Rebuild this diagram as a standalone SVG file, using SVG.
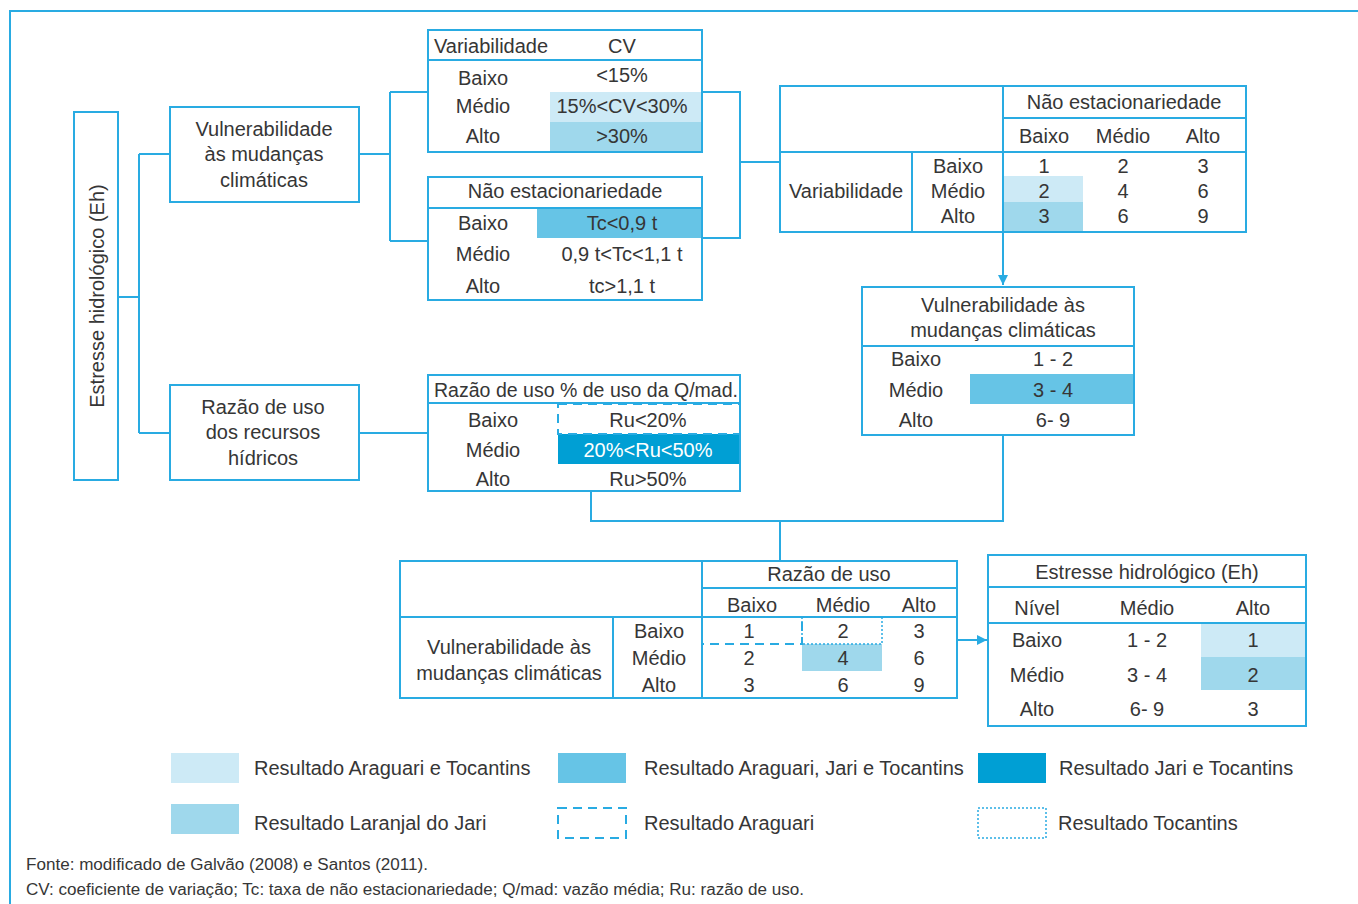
<svg xmlns="http://www.w3.org/2000/svg" width="1358" height="904" viewBox="0 0 1358 904">
<defs>
<style>
.b{fill:none;stroke:#29abe2;stroke-width:2}
.l{fill:none;stroke:#29abe2;stroke-width:2}
text{font-family:"Liberation Sans",Arial,sans-serif;font-size:20px;fill:#363636;text-anchor:middle;dominant-baseline:central}
.s{font-size:16px;text-anchor:start}
.g{text-anchor:start}
.c1{fill:#cdeaf6}.c2{fill:#9fd8ec}.c3{fill:#66c4e6}.c4{fill:#009fd4}
.da{fill:none;stroke:#29abe2;stroke-width:2;stroke-dasharray:9 6}
.do{fill:none;stroke:#29abe2;stroke-width:1.5;stroke-dasharray:2 2}
</style>
<marker id="ar" viewBox="0 0 10 10" refX="10" refY="5" markerWidth="5" markerHeight="5" orient="auto"><path d="M0,0L10,5L0,10z" fill="#29abe2"/></marker>
</defs>
<rect width="1358" height="904" fill="#fff"/>
<path class="l" d="M10,904V11H1358"/>

<g id="connectors">
<path class="l" d="M118,297H139M139,154V433M139,154H170M139,433H170"/>
<path class="l" d="M359,154H390M390,92V241M390,92H428M390,241H428"/>
<path class="l" d="M702,92H740V238H702M740,162H780"/>
<path class="l" d="M1003,232V285" marker-end="url(#ar)"/>
<path class="l" d="M359,433H428"/>
<path class="l" d="M591,491V521H1003V435M780,521V561"/>
<path class="l" d="M957,640H987" marker-end="url(#ar)"/>
</g>

<g id="eh-root">
<rect class="b" x="74" y="112" width="44" height="368"/>
<text transform="translate(97,296) rotate(-90)">Estresse hidrológico (Eh)</text>
</g>

<g id="vul-box">
<rect class="b" x="170" y="107" width="189" height="95"/>
<text x="264" y="129">Vulnerabilidade</text>
<text x="264" y="154">às mudanças</text>
<text x="264" y="180">climáticas</text>
</g>

<g id="razao-box">
<rect class="b" x="170" y="385" width="189" height="95"/>
<text x="263" y="407">Razão de uso</text>
<text x="263" y="432">dos recursos</text>
<text x="263" y="458">hídricos</text>
</g>

<g id="tab-cv">
<rect class="c1" x="550" y="92" width="152" height="30"/>
<rect class="c2" x="550" y="122" width="152" height="30"/>
<rect class="b" x="428" y="30" width="274" height="122"/>
<path class="l" d="M428,60H702"/>
<text x="491" y="46">Variabilidade</text>
<text x="622" y="46">CV</text>
<text x="483" y="78">Baixo</text><text x="622" y="75">&lt;15%</text>
<text x="483" y="106">Médio</text><text x="622" y="106">15%&lt;CV&lt;30%</text>
<text x="483" y="136">Alto</text><text x="622" y="136">&gt;30%</text>
</g>

<g id="tab-ne">
<rect class="c3" x="537" y="208" width="165" height="30"/>
<rect class="b" x="428" y="177" width="274" height="123"/>
<path class="l" d="M428,208H702"/>
<text x="565" y="191">Não estacionariedade</text>
<text x="483" y="223">Baixo</text><text x="622" y="223">Tc&lt;0,9 t</text>
<text x="483" y="254">Médio</text><text x="622" y="254">0,9 t&lt;Tc&lt;1,1 t</text>
<text x="483" y="286">Alto</text><text x="622" y="286">tc&gt;1,1 t</text>
</g>

<g id="matrix-vn">
<rect class="c1" x="1003" y="176" width="80" height="26"/>
<rect class="c2" x="1003" y="202" width="80" height="30"/>
<rect class="b" x="780" y="86" width="466" height="146"/>
<path class="l" d="M1003,86V232M1003,118H1246M780,152H1246M912,152V232"/>
<text x="1124" y="102">Não estacionariedade</text>
<text x="1044" y="136">Baixo</text><text x="1123" y="136">Médio</text><text x="1203" y="136">Alto</text>
<text x="846" y="191">Variabilidade</text>
<text x="958" y="166">Baixo</text><text x="958" y="191">Médio</text><text x="958" y="216">Alto</text>
<text x="1044" y="166">1</text><text x="1123" y="166">2</text><text x="1203" y="166">3</text>
<text x="1044" y="191">2</text><text x="1123" y="191">4</text><text x="1203" y="191">6</text>
<text x="1044" y="216">3</text><text x="1123" y="216">6</text><text x="1203" y="216">9</text>
</g>

<g id="tab-vul">
<rect class="c3" x="970" y="374" width="164" height="30"/>
<rect class="b" x="862" y="287" width="272" height="148"/>
<path class="l" d="M862,346H1134"/>
<text x="1003" y="305">Vulnerabilidade às</text>
<text x="1003" y="330">mudanças climáticas</text>
<text x="916" y="359">Baixo</text><text x="1053" y="359">1 - 2</text>
<text x="916" y="390">Médio</text><text x="1053" y="390">3 - 4</text>
<text x="916" y="420">Alto</text><text x="1053" y="420">6- 9</text>
</g>

<g id="tab-ru">
<rect class="c4" x="558" y="434" width="182" height="30"/>
<rect class="b" x="428" y="375" width="312" height="116"/>
<path class="l" d="M428,403H740"/>
<rect class="da" x="558" y="404" width="182" height="30"/>
<text x="586" y="390" textLength="304" lengthAdjust="spacingAndGlyphs">Razão de uso % de uso da Q/mad.</text>
<text x="493" y="420">Baixo</text><text x="648" y="420">Ru&lt;20%</text>
<text x="493" y="450">Médio</text><text x="648" y="450" style="fill:#fff">20%&lt;Ru&lt;50%</text>
<text x="493" y="479">Alto</text><text x="648" y="479">Ru&gt;50%</text>
</g>

<g id="matrix-vr">
<rect class="c2" x="802" y="644" width="80" height="27"/>
<rect class="b" x="400" y="561" width="557" height="137"/>
<path class="l" d="M702,561V698M702,588H957M400,617H957M613,617V698"/>
<path class="da" d="M702,617H802V644H702"/>
<rect class="do" x="802" y="617" width="80" height="27"/>
<text x="829" y="574">Razão de uso</text>
<text x="752" y="605">Baixo</text><text x="843" y="605">Médio</text><text x="919" y="605">Alto</text>
<text x="509" y="647">Vulnerabilidade às</text>
<text x="509" y="673">mudanças climáticas</text>
<text x="659" y="631">Baixo</text><text x="659" y="658">Médio</text><text x="659" y="685">Alto</text>
<text x="749" y="631">1</text><text x="843" y="631">2</text><text x="919" y="631">3</text>
<text x="749" y="658">2</text><text x="843" y="658">4</text><text x="919" y="658">6</text>
<text x="749" y="685">3</text><text x="843" y="685">6</text><text x="919" y="685">9</text>
</g>

<g id="tab-eh">
<rect class="c1" x="1201" y="623" width="105" height="34"/>
<rect class="c2" x="1201" y="657" width="105" height="33"/>
<rect class="b" x="988" y="555" width="318" height="171"/>
<path class="l" d="M988,587H1306M988,623H1306"/>
<text x="1147" y="572">Estresse hidrológico (Eh)</text>
<text x="1037" y="608">Nível</text><text x="1147" y="608">Médio</text><text x="1253" y="608">Alto</text>
<text x="1037" y="640">Baixo</text><text x="1147" y="640">1 - 2</text><text x="1253" y="640">1</text>
<text x="1037" y="675">Médio</text><text x="1147" y="675">3 - 4</text><text x="1253" y="675">2</text>
<text x="1037" y="709">Alto</text><text x="1147" y="709">6- 9</text><text x="1253" y="709">3</text>
</g>

<g id="legend">
<rect class="c1" x="171" y="753" width="68" height="30"/>
<text class="g" x="254" y="768">Resultado Araguari e Tocantins</text>
<rect class="c3" x="558" y="753" width="68" height="30"/>
<text class="g" x="644" y="768">Resultado Araguari, Jari e Tocantins</text>
<rect class="c4" x="978" y="753" width="68" height="30"/>
<text class="g" x="1059" y="768">Resultado Jari e Tocantins</text>
<rect class="c2" x="171" y="804" width="68" height="30"/>
<text class="g" x="254" y="823">Resultado Laranjal do Jari</text>
<rect class="da" x="558" y="808" width="68" height="30"/>
<text class="g" x="644" y="823">Resultado Araguari</text>
<rect class="do" x="978" y="808" width="68" height="30"/>
<text class="g" x="1058" y="823">Resultado Tocantins</text>
</g>

<g id="notes">
<text class="s" x="26" y="864" textLength="402" lengthAdjust="spacingAndGlyphs">Fonte: modificado de Galvão (2008) e Santos (2011).</text>
<text class="s" x="26" y="889" textLength="778" lengthAdjust="spacingAndGlyphs">CV: coeficiente de variação; Tc: taxa de não estacionariedade; Q/mad: vazão média; Ru: razão de uso.</text>
</g>
</svg>
